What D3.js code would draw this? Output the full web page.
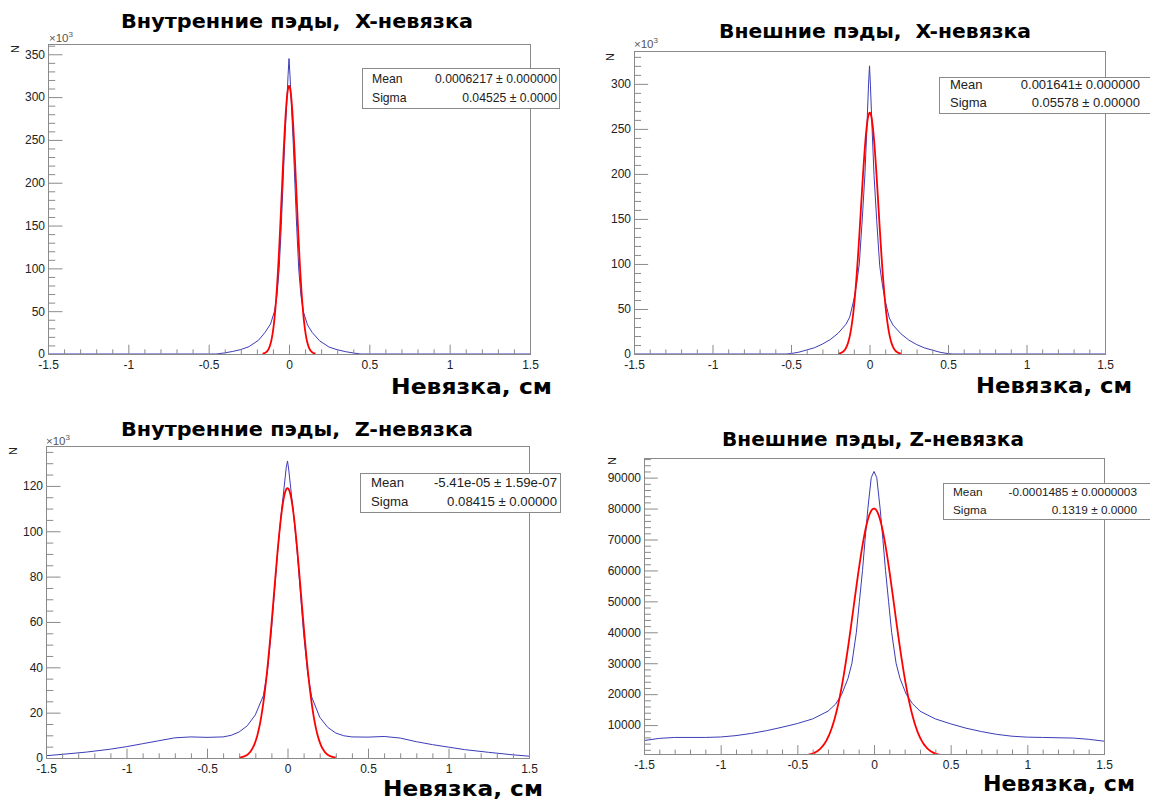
<!DOCTYPE html>
<html>
<head>
<meta charset="utf-8">
<script src="https://cdn.jsdelivr.net/npm/d3@7"></script>
<style>
  html, body { margin: 0; padding: 0; background: #fff; }
  svg { display: block; }
  .title, .xtitle { font-family: "DejaVu Sans", sans-serif; font-weight: bold; fill: #000; white-space: pre; }
  .tick text { font-family: "Liberation Sans", Arial, sans-serif; fill: #222; }
  .stat { font-family: "Liberation Sans", Arial, sans-serif; fill: #222; }
</style>
</head>
<body>
<svg id="chart" width="1150" height="800"></svg>
<script>
// ---- shared x axis (residual, cm) ----
const xRange = [-1.5, 1.5];
const xTickValues = [-1.5, -1, -0.5, 0, 0.5, 1, 1.5];
const xTickLabels = ["-1.5", "-1", "-0.5", "0", "0.5", "1", "1.5"];

const panelTitles = [
  "Внутренние пэды,  X-невязка",
  "Внешние пэды,  X-невязка",
  "Внутренние пэды,  Z-невязка",
  "Внешние пэды, Z-невязка"
];
const xAxisTitle = "Невязка, см";
const yAxisTitle = "N";

// ---- histogram contents (bin centre, entries) ----
const innerXPos = [-1.5, -0.455, -0.44, -0.4, -0.35, -0.3, -0.25, -0.19, -0.15, -0.115, -0.09, -0.074, -0.061, -0.048, -0.037, -0.026, -0.012, -0.006, 0, 0.006, 0.012, 0.026, 0.037, 0.048, 0.061, 0.074, 0.09, 0.115, 0.145, 0.19, 0.25, 0.3, 0.35, 0.4, 0.44, 0.45, 1.5];
const innerXCounts = [0, 0, 300, 1300, 3000, 5200, 8500, 16000, 25000, 35000, 50000, 70000, 100000, 150000, 200000, 250000, 300000, 325000, 345000, 326000, 302000, 248000, 198000, 148000, 98000, 69000, 49000, 34000, 25000, 15500, 8000, 5000, 2800, 1200, 200, 0, 0];

const outerXPos = [-1.5, -0.53, -0.5, -0.45, -0.4, -0.35, -0.3, -0.25, -0.2, -0.15, -0.126, -0.1, -0.082, -0.065, -0.046, -0.029, -0.017, -0.006, 0, 0.006, 0.017, 0.029, 0.046, 0.065, 0.082, 0.1, 0.126, 0.15, 0.2, 0.25, 0.3, 0.35, 0.4, 0.45, 0.5, 0.53, 1.5];
const outerXCounts = [0, 0, 500, 2000, 4500, 7000, 11000, 16000, 23000, 33000, 41000, 60000, 78000, 100000, 150000, 200000, 250000, 300000, 320000, 298000, 248000, 198000, 148000, 98000, 77000, 59000, 40000, 32000, 22500, 15500, 10500, 6800, 4300, 1900, 400, 0, 0];

const innerZPos = [-1.5, -1.4, -1.25, -1.1, -1.0, -0.9, -0.8, -0.7, -0.6, -0.5, -0.4, -0.35, -0.3, -0.25, -0.2, -0.15, -0.125, -0.1, -0.08, -0.06, -0.04, -0.02, -0.008, 0, 0.008, 0.02, 0.04, 0.06, 0.08, 0.1, 0.125, 0.15, 0.2, 0.25, 0.3, 0.35, 0.4, 0.5, 0.6, 0.7, 0.8, 0.9, 1.0, 1.1, 1.25, 1.4, 1.5];
const innerZCounts = [1000, 1600, 2600, 3900, 5000, 6300, 7600, 8900, 9300, 9100, 9300, 10000, 11500, 14200, 19000, 27500, 38000, 56000, 74000, 92000, 107000, 120000, 128000, 131000, 127000, 119000, 106000, 91000, 73000, 55000, 37500, 27000, 18000, 13500, 11000, 9800, 9300, 9200, 9500, 8800, 7200, 5900, 4800, 3700, 2500, 1400, 800];

const outerZPos = [-1.5, -1.4, -1.3, -1.2, -1.1, -1.0, -0.9, -0.8, -0.7, -0.6, -0.5, -0.4, -0.3, -0.25, -0.21, -0.17, -0.144, -0.115, -0.095, -0.075, -0.058, -0.04, -0.018, 0, 0.018, 0.04, 0.058, 0.075, 0.095, 0.115, 0.144, 0.17, 0.21, 0.25, 0.3, 0.4, 0.5, 0.6, 0.7, 0.8, 0.9, 1.0, 1.1, 1.2, 1.3, 1.4, 1.5];
const outerZCounts = [5000, 5700, 6000, 6000, 6000, 6150, 6600, 7300, 8200, 9300, 10500, 12000, 14500, 16800, 20000, 25000, 30000, 40000, 50000, 60000, 70000, 80000, 90000, 92000, 90000, 80000, 70000, 60000, 50000, 40000, 30000, 25000, 20000, 17000, 14500, 12000, 10400, 9000, 7900, 7000, 6400, 6100, 6000, 5900, 5800, 5400, 4800];

// ---- gaussian fit results ----
const fitAmplitudes = [313000, 268000, 119000, 80000];
const fitMeans = [0.0006217, 0.001641, -5.41e-05, -0.0001485];
const fitSigmas = [0.04525, 0.05578, 0.08415, 0.1319];
const fitRanges = [[-0.165, 0.165], [-0.2, 0.2], [-0.3, 0.3], [-0.43, 0.43]];
const statMeanTexts = ["0.0006217 \u00b1 0.000000", "0.001641\u00b1 0.000000", "-5.41e-05 \u00b1 1.59e-07", "-0.0001485 \u00b1 0.0000003"];
const statSigmaTexts = ["0.04525 \u00b1 0.0000", "0.05578 \u00b1 0.00000", "0.08415 \u00b1 0.00000", "0.1319 \u00b1 0.0000"];

// ---- y axes ----
const yRanges = [[0, 362000], [0, 336500], [0, 137600], [650, 96350]];
const yTickValues = [
  [0, 50000, 100000, 150000, 200000, 250000, 300000, 350000],
  [0, 50000, 100000, 150000, 200000, 250000, 300000],
  [0, 20000, 40000, 60000, 80000, 100000, 120000],
  [10000, 20000, 30000, 40000, 50000, 60000, 70000, 80000, 90000]
];
const yTickLabels = [
  ["0", "50", "100", "150", "200", "250", "300", "350"],
  ["0", "50", "100", "150", "200", "250", "300"],
  ["0", "20", "40", "60", "80", "100", "120"],
  ["10000", "20000", "30000", "40000", "50000", "60000", "70000", "80000", "90000"]
];
const yMinorSteps = [10000, 10000, 5000, 2000];
const yScaled = [true, true, true, false];   // labels shown in units of 10^3

const histPos = [innerXPos, outerXPos, innerZPos, outerZPos];
const histCounts = [innerXCounts, outerXCounts, innerZCounts, outerZCounts];

// ---- pad geometry ----
const layout = [
  { frame: [48, 44, 530, 354], title: [121, 473, 28], xtitle: [391, 552, 394],
    box: [362, 68, 559, 108], statRows: [83, 102], statX: [372, 557], statFont: 12.2,
    nPos: [15, 49], expPos: [49, 42] },
  { frame: [634, 51, 1105, 354], title: [719, 1031, 38], xtitle: [976, 1132, 393],
    box: [939, 77, 1152, 113], statRows: [89, 107], statX: [950, 1140], statFont: 13,
    nPos: [610, 57], expPos: [634, 48] },
  { frame: [46, 446, 529, 758], title: [121, 473, 436], xtitle: [383, 543, 796],
    box: [360, 473, 560, 512], statRows: [487, 506], statX: [371, 557], statFont: 13.2,
    nPos: [13, 451], expPos: [46, 445] },
  { frame: [644, 458, 1104, 754], title: [722, 1024, 446], xtitle: [983, 1135, 791],
    box: [943, 483, 1152, 519], statRows: [496, 514], statX: [953, 1137], statFont: 11.8,
    nPos: [612, 461], expPos: null }
];

const svg = d3.select("#chart");
const defs = svg.append("defs");
const frameColor = "#8a8a8a";
const histColor = "#3c3cb8";
const fitColor = "#ff0000";

layout.forEach((L, i) => {
  const [fx0, fy0, fx1, fy1] = L.frame;
  const x = d3.scaleLinear().domain(xRange).range([fx0, fx1]);
  const y = d3.scaleLinear().domain(yRanges[i]).range([fy1, fy0]);
  const g = svg.append("g");

  defs.append("clipPath").attr("id", "frameclip" + i)
    .append("rect").attr("x", fx0).attr("y", fy0)
    .attr("width", fx1 - fx0 + 1).attr("height", fy1 - fy0 + 1);

  // title
  g.append("text").attr("class", "title")
    .attr("x", L.title[0]).attr("y", L.title[2])
    .attr("font-size", 19)
    .attr("textLength", L.title[1] - L.title[0]).attr("lengthAdjust", "spacingAndGlyphs")
    .text(panelTitles[i]);

  // histogram outline
  const pts = d3.zip(histPos[i], histCounts[i]);
  g.append("path").datum(pts)
    .attr("clip-path", `url(#frameclip${i})`)
    .attr("fill", "none").attr("stroke", histColor).attr("stroke-width", 1)
    .attr("d", d3.line().x(d => x(d[0])).y(d => y(d[1])));

  // gaussian fit over its fit range
  const [lo, hi] = fitRanges[i];
  const nSamp = 240;
  const gauss = d3.range(nSamp + 1).map(k => {
    const xv = lo + (hi - lo) * k / nSamp;
    const t = (xv - fitMeans[i]) / fitSigmas[i];
    return [xv, fitAmplitudes[i] * Math.exp(-0.5 * t * t)];
  });
  g.append("path").datum(gauss)
    .attr("clip-path", `url(#frameclip${i})`)
    .attr("fill", "none").attr("stroke", fitColor).attr("stroke-width", 1.8)
    .attr("d", d3.line().x(d => x(d[0])).y(d => y(d[1])).curve(d3.curveMonotoneX));

  // frame
  g.append("rect")
    .attr("x", fx0 + 0.5).attr("y", fy0 + 0.5)
    .attr("width", fx1 - fx0).attr("height", fy1 - fy0)
    .attr("fill", "none").attr("stroke", frameColor).attr("stroke-width", 1);

  const yLen = 0.03 * (fx1 - fx0);
  const xLen = 0.03 * (fy1 - fy0);

  // x axis: major + minor ticks
  const xMinor = d3.range(-15, 16).map(k => k / 10).filter(v => !xTickValues.some(t => Math.abs(t - v) < 1e-9));
  const gxMinor = g.append("g").attr("transform", `translate(0,${fy1})`)
    .call(d3.axisBottom(x).tickValues(xMinor).tickSize(-xLen / 2).tickFormat(""));
  const gx = g.append("g").attr("transform", `translate(0,${fy1})`)
    .call(d3.axisBottom(x).tickValues(xTickValues).tickSize(-xLen).tickPadding(4)
      .tickFormat((d, k) => xTickLabels[k]));
  [gx, gxMinor].forEach(a => {
    a.select(".domain").remove();
    a.selectAll(".tick line").attr("stroke", frameColor);
  });
  gx.selectAll(".tick text").attr("font-size", 12).attr("dy", "0.92em");

  // y axis: major + minor ticks
  const [ya, yb] = yRanges[i];
  const step = yMinorSteps[i];
  const yMinor = d3.range(Math.ceil(ya / step) * step, yb + 1, step)
    .filter(v => !yTickValues[i].includes(v));
  const gyMinor = g.append("g").attr("transform", `translate(${fx0},0)`)
    .call(d3.axisLeft(y).tickValues(yMinor).tickSize(-yLen / 2).tickFormat(""));
  const gy = g.append("g").attr("transform", `translate(${fx0},0)`)
    .call(d3.axisLeft(y).tickValues(yTickValues[i]).tickSize(-yLen).tickPadding(3)
      .tickFormat((d, k) => yTickLabels[i][k]));
  [gy, gyMinor].forEach(a => {
    a.select(".domain").remove();
    a.selectAll(".tick line").attr("stroke", frameColor);
  });
  gy.selectAll(".tick text").attr("font-size", 12);

  // y axis title and exponent
  g.append("text")
    .attr("transform", `translate(${L.nPos[0]},${L.nPos[1]}) rotate(-90)`)
    .attr("text-anchor", "middle").attr("dy", "0.35em")
    .attr("font-family", "Liberation Sans, Arial, sans-serif").attr("font-size", 11)
    .attr("fill", "#222").text(yAxisTitle);
  if (yScaled[i] && L.expPos) {
    const ex = g.append("text").attr("x", L.expPos[0]).attr("y", L.expPos[1])
      .attr("font-family", "Liberation Sans, Arial, sans-serif").attr("font-size", 11.5)
      .attr("fill", "#555");
    ex.append("tspan").text("\u00d710");
    ex.append("tspan").attr("dy", -5).attr("font-size", 8).text("3");
  }

  // x axis title
  g.append("text").attr("class", "xtitle")
    .attr("x", L.xtitle[0]).attr("y", L.xtitle[2])
    .attr("font-size", 22)
    .attr("textLength", L.xtitle[1] - L.xtitle[0]).attr("lengthAdjust", "spacingAndGlyphs")
    .text(xAxisTitle);

  // fit statistics box
  const [bx0, by0, bx1, by1] = L.box;
  g.append("rect")
    .attr("x", bx0 + 0.5).attr("y", by0 + 0.5)
    .attr("width", bx1 - bx0).attr("height", by1 - by0)
    .attr("fill", "#fff").attr("stroke", frameColor);
  const rows = [["Mean", statMeanTexts[i]], ["Sigma", statSigmaTexts[i]]];
  rows.forEach((r, k) => {
    g.append("text").attr("class", "stat")
      .attr("x", L.statX[0]).attr("y", L.statRows[k])
      .attr("font-size", L.statFont).text(r[0]);
    g.append("text").attr("class", "stat")
      .attr("x", L.statX[1]).attr("y", L.statRows[k])
      .attr("text-anchor", "end").attr("font-size", L.statFont)
      .style("white-space", "pre").text(r[1]);
  });
});
</script>
</body>
</html>
